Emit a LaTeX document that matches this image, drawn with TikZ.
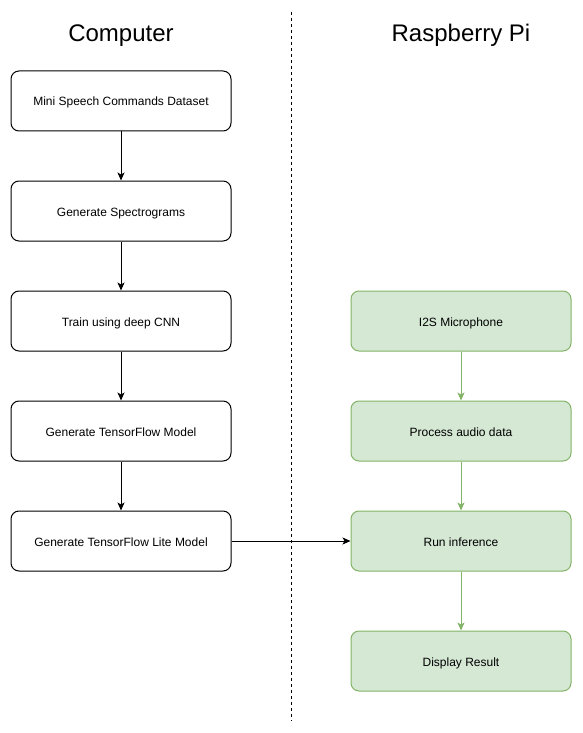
\documentclass[tikz,border=0pt]{standalone}
\usepackage{fontspec}
\setmainfont{Liberation Sans}
\usetikzlibrary{arrows.meta}
\definecolor{gfill}{HTML}{D5E8D4}
\definecolor{gline}{HTML}{82B366}
\tikzset{
  pcbox/.style={draw=black, line width=1pt, rounded corners=8pt, minimum width=220pt, minimum height=60pt, inner sep=0pt, text height=10pt, text depth=0pt, font=\fontsize{12}{14}\selectfont, fill=white},
  pibox/.style={pcbox, draw=gline, fill=gfill},
  title/.style={font=\fontsize{24}{28}\selectfont, inner sep=0pt, text height=20pt, text depth=0pt},
  arr/.style={line width=1pt, -{Stealth[length=8pt,width=7pt,inset=2pt]}},
  garr/.style={arr, draw=gline, fill=gline}
}
\begin{document}
\begin{tikzpicture}[x=1pt,y=-1pt]
\useasboundingbox (0,0) rectangle (582,733);
\coordinate (dtop) at (291,12);
\coordinate (dbot) at (291,721);
\draw[line width=1pt, dash pattern=on 3pt off 3pt] (dtop) -- (dbot);
\node[title] (t1) at (121,32) {Computer};
\node[title] (t2) at (461,32) {Raspberry Pi};
\node[pcbox] (a1) at (121,101) {Mini Speech Commands Dataset};
\node[pcbox] (a2) at (121,211) {Generate Spectrograms};
\node[pcbox] (a3) at (121,321) {Train using deep CNN};
\node[pcbox] (a4) at (121,431) {Generate TensorFlow Model};
\node[pcbox] (a5) at (121,541) {Generate TensorFlow Lite Model};
\node[pibox] (b1) at (461,321) {I2S Microphone};
\node[pibox] (b2) at (461,431) {Process audio data};
\node[pibox] (b3) at (461,541) {Run inference};
\node[pibox] (b4) at (461,661) {Display Result};
\draw[arr] (a1) -- (a2);
\draw[arr] (a2) -- (a3);
\draw[arr] (a3) -- (a4);
\draw[arr] (a4) -- (a5);
\draw[arr] (a5) -- (b3);
\draw[garr] (b1) -- (b2);
\draw[garr] (b2) -- (b3);
\draw[garr] (b3) -- (b4);
\end{tikzpicture}
\end{document}
